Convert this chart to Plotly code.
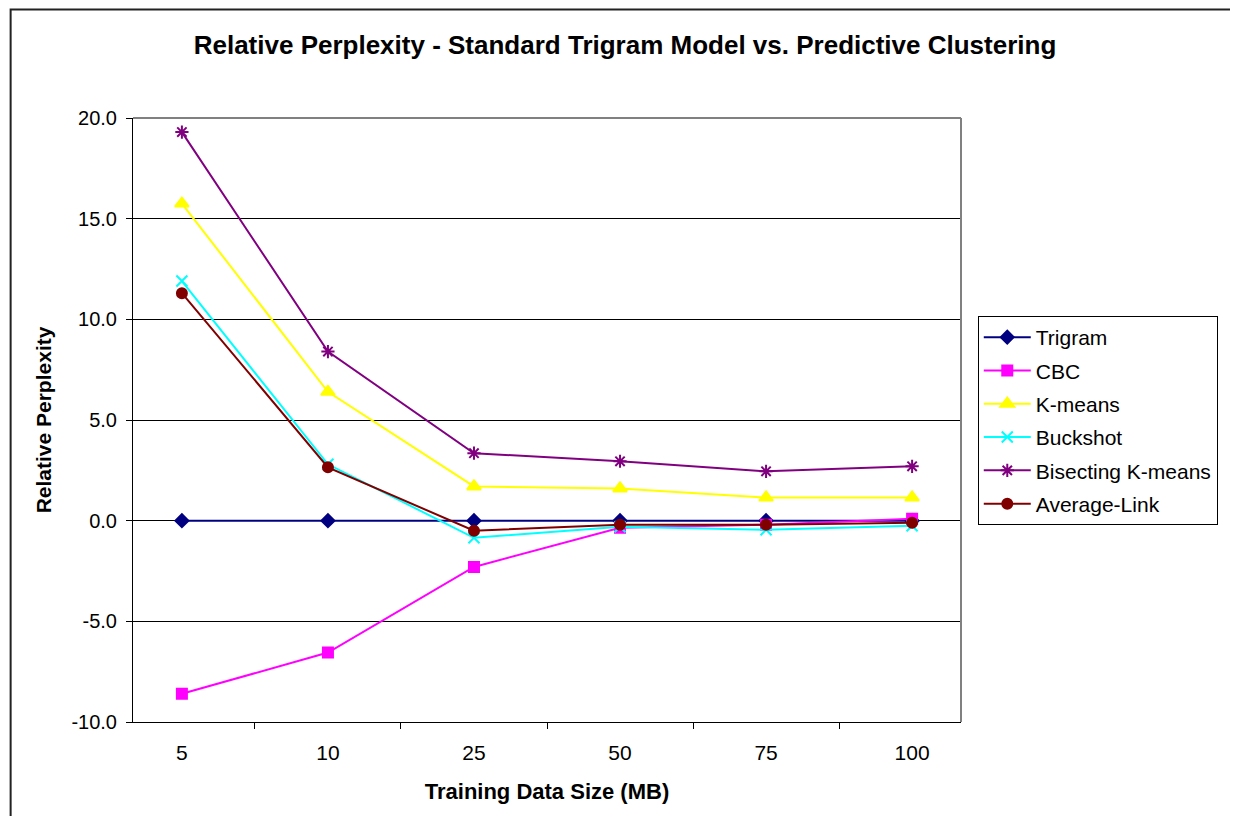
import plotly.graph_objects as go

sizes = ["5", "10", "25", "50", "75", "100"]
trigram = [0.0, 0.0, 0.0, 0.0, 0.0, 0.0]
cbc = [-8.6, -6.55, -2.3, -0.35, -0.2, 0.1]
kmeans = [15.75, 6.4, 1.7, 1.6, 1.15, 1.15]
buckshot = [11.9, 2.8, -0.85, -0.3, -0.45, -0.25]
bisecting = [19.3, 8.4, 3.35, 2.95, 2.45, 2.7]
average_link = [11.3, 2.65, -0.5, -0.2, -0.2, -0.1]
y_ticks = [-10, -5, 0, 5, 10, 15, 20]
y_tick_text = ["-10.0", "-5.0", "0.0", "5.0", "10.0", "15.0", "20.0"]

series = [
    ("Trigram", trigram, "#000080", "diamond", 10),
    ("CBC", cbc, "#FF00FF", "square", 10),
    ("K-means", kmeans, "#FFFF00", "triangle-up", 12),
    ("Buckshot", buckshot, "#00FFFF", "x-thin-open", 11),
    ("Bisecting K-means", bisecting, "#800080", "asterisk-open", 11),
    ("Average-Link", average_link, "#800000", "circle", 10),
]

FONT = "Liberation Sans, Arial, sans-serif"
W, H = 1222, 808          # page has 8px body margin
OFF = 8
L, T = 133 - OFF, 118 - OFF
PW, PH = 839, 604

fig = go.Figure()
for i, (name, vals, color, sym, sz) in enumerate(series):
    fig.add_trace(go.Scatter(
        x=sizes, y=vals, name=name, mode="lines+markers",
        legendgroup=f"g{i}",
        line=dict(color=color, width=2),
        marker=dict(symbol=sym, size=sz, color=color,
                    line=dict(color=color, width=2)),
    ))

fig.update_layout(
    width=W, height=H,
    margin=dict(l=L, r=W - L - PW, t=T, b=H - T - PH, pad=0),
    paper_bgcolor="white", plot_bgcolor="white",
    font=dict(family=FONT, color="black", size=20),
    title=dict(text="<b>Relative Perplexity - Standard Trigram Model vs. Predictive Clustering</b>",
               x=(625 - OFF) / W, xanchor="center", xref="container",
               y=1 - (45 - OFF) / H, yanchor="middle", yref="container",
               font=dict(size=26, family=FONT)),
    legend=dict(x=(989 - 133) / PW, y=(722 - 316) / PH, xanchor="left", yanchor="top",
                bordercolor="black", borderwidth=1, bgcolor="white",
                font=dict(size=21, family=FONT), tracegroupgap=3,
                itemwidth=47),
    showlegend=True,
)
fig.update_xaxes(
    type="category", tickson="boundaries", ticks="outside", ticklen=6,
    tickcolor="black", showline=True, linecolor="black", linewidth=1,
    showgrid=False, tickfont=dict(size=21), ticklabelstandoff=12,
    title=dict(text="<b>Training Data Size (MB)</b>", font=dict(size=22), standoff=20),
)
fig.update_yaxes(
    range=[-10, 20], tickvals=y_ticks, ticktext=y_tick_text, ticks="outside", ticklen=6,
    tickcolor="black", showline=True, linecolor="black", linewidth=1,
    showgrid=True, gridcolor="black", gridwidth=1, zeroline=False,
    tickfont=dict(size=20), ticklabelstandoff=5,
    title=dict(text="<b>Relative Perplexity</b>", font=dict(size=21), standoff=14),
)
# plot area top/right border (gray)
fig.add_shape(type="line", xref="paper", yref="paper", x0=0, x1=1, y0=1, y1=1,
              line=dict(color="#808080", width=2))
fig.add_shape(type="line", xref="paper", yref="paper", x0=1, x1=1, y0=0, y1=1,
              line=dict(color="#808080", width=2))
# chart outer frame (kept just inside the figure so it stays visible)
fig.add_shape(type="rect", xref="paper", yref="paper",
              x0=(9 - 133) / PW, x1=1.5, y0=-0.3, y1=1 + (T - 1.5) / PH,
              line=dict(color="#222222", width=2), fillcolor="rgba(0,0,0,0)")

fig.write_html("out.html")
